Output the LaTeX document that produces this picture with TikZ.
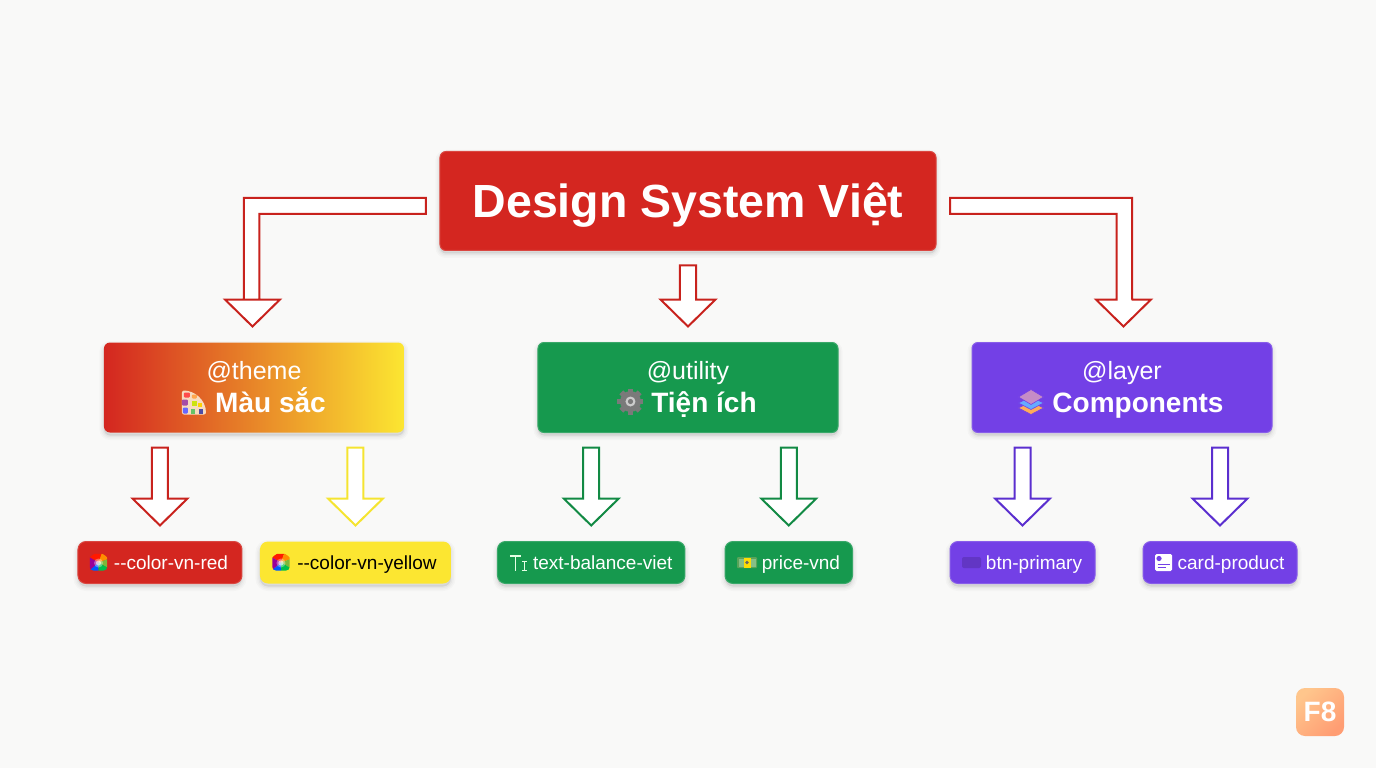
\documentclass[tikz,border=0pt]{standalone}
\usepackage{fontspec}
\setmainfont{Liberation Sans}
\usepackage{xcolor}
\usepackage{tikz}
\usetikzlibrary{positioning, arrows.meta, calc}
\definecolor{paper}{HTML}{F9F9F8}
\definecolor{vnred}{HTML}{D42620}
\definecolor{vnyellow}{HTML}{FCE631}
\definecolor{vnorange}{HTML}{E5902E}
\definecolor{vngreen}{HTML}{16994E}
\definecolor{vnpurple}{HTML}{7340E6}
\definecolor{linered}{HTML}{C8221D}
\definecolor{lineyellow}{HTML}{F5E430}
\definecolor{linegreen}{HTML}{128A44}
\definecolor{linepurple}{HTML}{5B2FCF}

\begin{document}
\begin{tikzpicture}[
  x=1pt, y=1pt,
  every node/.style={align=center},
  softshadow/.style={
    preaction={draw=black, fill=black, line width=9pt, opacity=.018, transform canvas={yshift=-3pt}},
    preaction={draw=black, fill=black, line width=6pt, opacity=.025, transform canvas={yshift=-3pt}},
    preaction={draw=black, fill=black, line width=3pt, opacity=.03, transform canvas={yshift=-3pt}}},
  rootbox/.style={rectangle, rounded corners=6pt, fill=vnred, draw=vnred!85!white,
                  line width=1pt, outer sep=0pt, inner sep=0pt, text=white, softshadow,
                  minimum width=496pt, minimum height=99pt, text height=34pt, text depth=0pt,
                  font=\fontsize{46.5}{50}\selectfont\bfseries},
  groupbox/.style={rectangle, rounded corners=6pt, line width=1pt, outer sep=0pt,
                   inner sep=0pt, text=white, softshadow,
                   minimum width=300pt, minimum height=90pt, text height=50pt, text depth=0pt,
                   font=\fontsize{25}{33}\selectfont},
  leafbox/.style={rectangle, rounded corners=8pt, line width=1pt, outer sep=0pt,
                  inner sep=0pt, text=white, softshadow, minimum height=42pt,
                  text height=13pt, text depth=0pt,
                  font=\fontsize{19}{22}\selectfont},
  blockarr/.style={line width=2pt, fill=white, miter limit=10,
    to path={let \p1=(\tikztostart), \p2=(\tikztotarget) in
      (\x2-8,\y1-15) -- (\x2+8,\y1-15) -- (\x2+8,\y2+43) -- (\x2+27.5,\y2+43)
      -- (\x2,\y2+16) -- (\x2-27.5,\y2+43) -- (\x2-8,\y2+43) -- cycle}},
  bentarr/.style={line width=2pt, fill=white, miter limit=10,
    to path={let \p1=(\tikztostart), \p2=(\tikztotarget) in
      (\x1+#1*14,\y1+3) -- (\x2+#1*10,\y1+3) -- (\x2+#1*10,\y2+43)
      -- (\x2+#1*1.5+8,\y2+43) -- (\x2+#1*1.5+27.5,\y2+43) -- (\x2+#1*1.5,\y2+16)
      -- (\x2+#1*1.5-27.5,\y2+43) -- (\x2+#1*1.5-8,\y2+43)
      -- (\x2-#1*5.5,\y2+43) -- (\x2-#1*5.5,\y1-13) -- (\x1+#1*14,\y1-13) -- cycle}},
  paletteicon/.pic={
    \fill[rounded corners=2pt, fill=black!12!orange!25!white] (-12,-12) -- (-12,12)
      .. controls (0,12) and (12,3) .. (12,-12) -- cycle;
    \fill[red!70!white, rounded corners=1pt] (-10,5) rectangle (-4,10);
    \fill[orange!70!white, rounded corners=1pt] (-2,4) rectangle (3,8);
    \fill[violet!70!white, rounded corners=1pt] (-12,-3) rectangle (-6,3);
    \fill[blue!60!white, rounded corners=1pt] (-11,-11) rectangle (-6,-5);
    \fill[yellow!80!green] (-2,-3) rectangle (3,2);
    \fill[green!60!black!60!white] (-3,-11) rectangle (1,-6);
    \fill[blue!50!black!70!white] (5,-11) rectangle (9,-6);
    \fill[yellow!70!orange] (4,-4) rectangle (8,0);},
  gearicon/.pic={
    \fill[black!52] (0,0) circle[radius=10.5pt];
    \foreach \a in {0,45,...,315}
      \fill[black!52, rotate=\a] (-2.8,8) rectangle (2.8,13);
    \fill[white!80!black] (0,0) circle[radius=5pt];
    \fill[black!52] (0,0) circle[radius=2.6pt];},
  layersicon/.pic={
    \fill[orange!65!white, draw=vnpurple, line width=.6pt] (-12.5,-6) -- (0,0.5) -- (12.5,-6) -- (0,-12.5) -- cycle;
    \fill[blue!55!cyan!60!white, draw=vnpurple, line width=.6pt] (-12.5,-1) -- (0,5.5) -- (12.5,-1) -- (0,-7.5) -- cycle;
    \fill[violet!45!white, draw=vnpurple, line width=.6pt] (-12.5,5) -- (0,12.5) -- (12.5,5) -- (0,-2.5) -- cycle;},
  wheelicon/.pic={
    \begin{scope}
      \clip[rounded corners=3.5pt] (-8.7,-8) -- (-8.7,1) .. controls (-8.7,6) and (-4,8.7) .. (0,8.7)
        .. controls (4,8.7) and (8.7,6) .. (8.7,1) -- (8.7,-8) -- cycle;
      \fill[red!80!orange] (0,0) -- (70:30) -- (150:30) -- cycle;
      \fill[orange!90!yellow] (0,0) -- (70:30) -- (20:30) -- cycle;
      \fill[yellow!50!green!85!black] (0,0) -- (20:30) -- (-30:30) -- cycle;
      \fill[green!60!cyan!75!black] (0,0) -- (-30:30) -- (-90:30) -- cycle;
      \fill[blue!65!cyan] (0,0) -- (-90:30) -- (-140:30) -- cycle;
      \fill[violet!80!magenta] (0,0) -- (-140:30) -- (150:30) -- cycle;
    \end{scope}
    \fill[white, opacity=.35] (0,-.5) circle[radius=4.5pt];
    \fill[white, opacity=.6] (0,-.5) circle[radius=2.6pt];},
  texticon/.pic={
    \draw[white!90!green, line width=1.2pt] (-8.5,6.5) -- (2.5,6.5) (-3,6.5) -- (-3,-8);
    \draw[white!90!green, line width=1pt] (3.5,1.5) -- (8.5,1.5) (6,1.5) -- (6,-7.5) (3.5,-7.5) -- (8.5,-7.5);},
  moneyicon/.pic={
    \fill[green!45!black!65!white, rounded corners=1pt] (-10,-5.5) rectangle (10,5.5);
    \fill[green!30!white!75!black] (-8.5,-4) rectangle (8.5,4);
    \fill[yellow!80!orange] (-3.5,-5) rectangle (3.5,5);
    \fill[black!60] (0,0) circle[radius=1.8pt];},
  buttonicon/.pic={
    \fill[vnpurple!85!black, rounded corners=2pt] (-9.5,-5.5) rectangle (9.5,5.5);},
  cardicon/.pic={
    \fill[white, rounded corners=1.5pt] (-8.5,-8.5) rectangle (8.5,8.5);
    \fill[vnpurple] (-4.5,4) circle[radius=2.6pt];
    \draw[vnpurple, line width=1pt] (-6,-2) -- (6,-2) (-6,-5) -- (2,-5);}
]
  \path[use as bounding box, fill=paper] (-688,-567) rectangle (688,201);

  \node[rootbox] (root) at (0,0) {Design System Việt};

  \node[groupbox, below=92pt of root, xshift=-434pt, left color=vnred, middle color=vnorange, right color=vnyellow] (theme)
    {@theme\\\hspace*{33pt}{\fontsize{28}{33}\selectfont\bfseries Màu sắc}};
  \node[groupbox, below=92pt of root, fill=vngreen, draw=vngreen!85!white] (utility)
    {@utility\\\hspace*{32pt}{\fontsize{28}{33}\selectfont\bfseries Tiện ích}};
  \node[groupbox, below=92pt of root, xshift=434pt, fill=vnpurple, draw=vnpurple!85!white] (layer)
    {@layer\\\hspace*{32pt}{\fontsize{28}{33}\selectfont\bfseries Components}};

  \node[leafbox, below=109pt of theme, xshift=-94pt, minimum width=164pt, fill=vnred, draw=vnred!85!white] (colorred)
    {\hspace*{22pt}-{}-color-vn-red};
  \node[leafbox, below=109pt of theme, xshift=101.5pt, minimum width=191pt, fill=vnyellow, text=black] (coloryellow)
    {\hspace*{23pt}-{}-color-vn-yellow};
  \node[leafbox, below=109pt of utility, xshift=-96.75pt, minimum width=187.5pt, fill=vngreen, draw=vngreen!85!white] (balance)
    {\hspace*{23pt}text-balance-viet};
  \node[leafbox, below=109pt of utility, xshift=100.75pt, minimum width=127.5pt, fill=vngreen, draw=vngreen!85!white] (price)
    {\hspace*{24.5pt}price-vnd};
  \node[leafbox, below=109pt of layer, xshift=-99.5pt, minimum width=145pt, fill=vnpurple, draw=vnpurple!85!white] (btn)
    {\hspace*{23pt}btn-primary};
  \node[leafbox, below=109pt of layer, xshift=98pt, minimum width=154pt, fill=vnpurple, draw=vnpurple!85!white] (card)
    {\hspace*{22pt}card-product};

  \node[rectangle, rounded corners=9pt, minimum size=48pt, inner sep=0pt, text=white,
        top color=orange!45!white, bottom color=red!40!orange!55!white, shading angle=45,
        font=\fontsize{28}{30}\selectfont\bfseries] (logo) at (632,-511) {F8};

  \draw[bentarr=-1, draw=linered] (root.west) to (theme.north);
  \draw[blockarr, draw=linered] (root.south) to (utility.north);
  \draw[bentarr=1, draw=linered] (root.east) to (layer.north);

  \draw[blockarr, draw=linered] (theme.south) to (colorred.north);
  \draw[blockarr, draw=lineyellow] (theme.south) to (coloryellow.north);
  \draw[blockarr, draw=linegreen] (utility.south) to (balance.north);
  \draw[blockarr, draw=linegreen] (utility.south) to (price.north);
  \draw[blockarr, draw=linepurple] (layer.south) to (btn.north);
  \draw[blockarr, draw=linepurple] (layer.south) to (card.north);

  \pic at ($(theme.center)+(-60,-15)$) {paletteicon};
  \pic at ($(utility.center)+(-57.5,-14)$) {gearicon};
  \pic at ($(layer.center)+(-91,-14.5)$) {layersicon};
  \pic at ($(colorred.center)+(-61.5,0)$) {wheelicon};
  \pic at ($(coloryellow.center)+(-74.5,0)$) {wheelicon};
  \pic at ($(balance.center)+(-72.75,0)$) {texticon};
  \pic at ($(price.center)+(-41.75,0)$) {moneyicon};
  \pic at ($(btn.center)+(-51,0)$) {buttonicon};
  \pic at ($(card.center)+(-56.5,0)$) {cardicon};
\end{tikzpicture}
\end{document}
